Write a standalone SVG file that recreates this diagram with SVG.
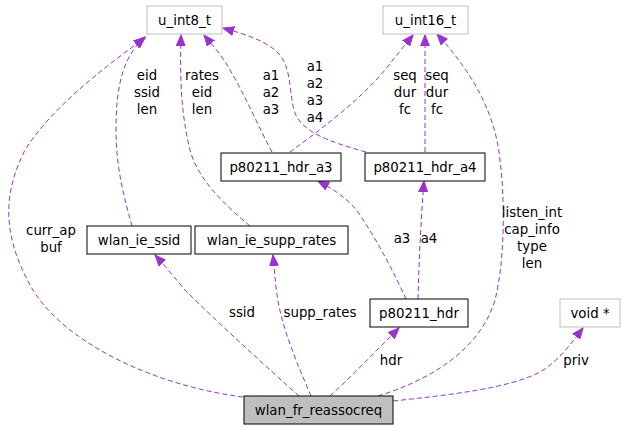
<svg xmlns="http://www.w3.org/2000/svg" width="624" height="429" viewBox="0 0 624 429">
<style>
text{font-family:"DejaVu Sans",sans-serif;font-size:13.33px;fill:#000;text-anchor:middle}
.n{fill:#fff;stroke:#000;stroke-width:1}
.g{fill:#fff;stroke:#bfbfbf;stroke-width:1}
.r{fill:#bfbfbf;stroke:#000;stroke-width:1}
.e{fill:none;stroke:#9a32cd;stroke-width:1;stroke-dasharray:5,3;marker-end:url(#ah)}
</style>
<defs>
<marker id="ah" markerUnits="userSpaceOnUse" markerWidth="12" markerHeight="10" refX="11" refY="5" orient="auto">
<path d="M0,0.5 L11,5 L0,9.5 Z" fill="#9a32cd" stroke="#9a32cd"/>
</marker>
</defs>
<rect width="624" height="429" fill="#fff"/>
<g id="edges">
<path class="e" d="M243,397 C150,385 60,340 30,285 C0,230 5,190 25,150 C50,110 100,70 145,38"/>
<path class="e" d="M132,226 C125,200 116,170 116,130 C116,80 125,55 145,37"/>
<path class="e" d="M250,226 C225,205 198,180 190,150 C180,110 180,70 181,35"/>
<path class="e" d="M272,152 C260,130 245,95 230,70 C222,55 212,45 204,35"/>
<path class="e" d="M366,152 C330,142 300,132 294,110 C288,85 292,65 275,50 C260,38 240,33 223,28"/>
<path class="e" d="M290,152 C320,130 360,100 385,70 C395,57 405,45 413,35"/>
<path class="e" d="M425,152 L425,35"/>
<path class="e" d="M378,396 C430,380 480,350 495,300 C505,260 505,200 500,160 C495,110 470,70 437,34"/>
<path class="e" d="M406,299 C395,275 380,245 360,215 C350,200 335,190 318,181"/>
<path class="e" d="M418,299 C419,260 421,220 424,181"/>
<path class="e" d="M299,396 C270,370 220,325 185,290 C175,278 165,266 155,255"/>
<path class="e" d="M311,396 C300,370 282,330 277,295 C275,280 274,265 273,255"/>
<path class="e" d="M330,396 C350,378 375,352 399,328"/>
<path class="e" d="M393,401 C450,395 510,388 540,372 C560,360 572,342 583,328"/>
<text x="51" y="235">curr_ap</text><text x="51" y="252">buf</text>
<text x="147" y="80">eid</text><text x="147" y="97">ssid</text><text x="147" y="114">len</text>
<text x="202" y="80">rates</text><text x="202" y="97">eid</text><text x="202" y="114">len</text>
<text x="271" y="80">a1</text><text x="271" y="97">a2</text><text x="271" y="114">a3</text>
<text x="315" y="71">a1</text><text x="315" y="88">a2</text><text x="315" y="105">a3</text><text x="315" y="122">a4</text>
<text x="405" y="80">seq</text><text x="405" y="97">dur</text><text x="405" y="114">fc</text>
<text x="437" y="80">seq</text><text x="437" y="97">dur</text><text x="437" y="114">fc</text>
<text x="532" y="217">listen_int</text><text x="532" y="234">cap_info</text><text x="532" y="251">type</text><text x="532" y="268">len</text>
<text x="402" y="243">a3</text><text x="429" y="243">a4</text>
<text x="242" y="317">ssid</text>
<text x="320" y="317">supp_rates</text>
<text x="391" y="365">hdr</text>
<text x="576" y="365">priv</text>
</g>
<g id="u_int8_t"><rect class="g" x="147" y="6" width="75" height="28"/><text x="184.5" y="25">u_int8_t</text></g>
<g id="u_int16_t"><rect class="g" x="383" y="6" width="85" height="28"/><text x="425.5" y="25">u_int16_t</text></g>
<g id="p80211_hdr_a3"><rect class="n" x="221" y="153" width="120" height="28"/><text x="281" y="172">p80211_hdr_a3</text></g>
<g id="p80211_hdr_a4"><rect class="n" x="365" y="153" width="120" height="28"/><text x="425" y="172">p80211_hdr_a4</text></g>
<g id="wlan_ie_ssid"><rect class="n" x="87" y="226" width="104" height="28"/><text x="139" y="245">wlan_ie_ssid</text></g>
<g id="wlan_ie_supp_rates"><rect class="n" x="195" y="226" width="153" height="28"/><text x="271.5" y="245">wlan_ie_supp_rates</text></g>
<g id="p80211_hdr"><rect class="n" x="370" y="299" width="98" height="28"/><text x="419" y="318">p80211_hdr</text></g>
<g id="void"><rect class="g" x="560" y="299" width="60" height="28"/><text x="590" y="318">void *</text></g>
<g id="wlan_fr_reassocreq"><rect class="r" x="244" y="396" width="149" height="28"/><text x="318.5" y="415">wlan_fr_reassocreq</text></g>
</svg>
